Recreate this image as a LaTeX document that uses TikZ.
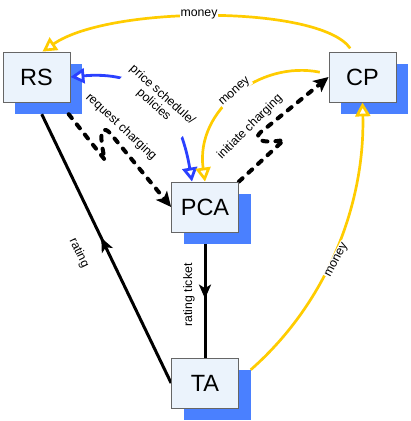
\documentclass[tikz,border=0pt]{standalone}
\usepackage{fontspec}
\setmainfont{Liberation Sans}
\usetikzlibrary{arrows.meta,calc,decorations.markings}
\pgfdeclarelayer{bg}\pgfdeclarelayer{fg}\pgfsetlayers{bg,main,fg}
\definecolor{boxfill}{HTML}{EBF3FC}
\definecolor{boxline}{HTML}{666666}
\definecolor{shadowblue}{HTML}{4A80FF}
\definecolor{linkblue}{HTML}{2A40FF}
\definecolor{gold}{HTML}{FFCC00}
\begin{document}
\begin{tikzpicture}[x=1pt,y=-1pt,
  entity/.style={draw=boxline, line width=0.8pt, fill=boxfill, minimum width=67pt, minimum height=50pt, inner sep=0pt, font=\fontsize{23.5}{26}\selectfont},
  shadowbox/.style={fill=shadowblue, minimum width=67pt, minimum height=50pt, inner sep=0pt},
  lbl/.style={font=\fontsize{12.3}{13}\selectfont, fill=white, inner sep=1pt, align=center},
  moneyflow/.style={draw=gold, line width=2.7pt, -{Triangle[length=14pt,width=15pt,fill=white]}},
  policyflow/.style={draw=linkblue, line width=2.8pt, {Triangle[length=14pt,width=15pt,fill=white]}-{Triangle[length=14pt,width=15pt,fill=white]}},
  dashflow/.style={draw=black, line width=4pt, dash pattern=on 5pt off 8pt, line cap=round, -{Stealth[length=15pt,width=14pt,inset=3.5pt]}},
  solidflow/.style={draw=black, line width=3pt},
  midarrow/.style={postaction={decorate}, decoration={markings, mark=at position #1 with {\arrow{Stealth[length=14pt,width=12pt,inset=3.5pt]}}}}
]
\useasboundingbox (0,0) rectangle (411,421);

\begin{pgfonlayer}{fg}
  \node[entity] (RS)  at (36.5,77)  {RS};
  \node[entity] (CP)  at (362.5,77) {CP};
  \node[entity] (PCA) at (205,207)  {PCA};
  \node[entity] (TA)  at (205,383)  {TA};
\end{pgfonlayer}

\begin{pgfonlayer}{bg}
  \node[shadowbox] (RSs)  at ($(RS)+(12,12)$)  {};
  \node[shadowbox] (CPs)  at ($(CP)+(12,12)$)  {};
  \node[shadowbox] (PCAs) at ($(PCA)+(12,12)$) {};
  \node[shadowbox] (TAs)  at ($(TA)+(12,12)$)  {};
\end{pgfonlayer}

% money CP -> RS (top)
\draw[moneyflow, shorten <=4pt] ([xshift=-10pt]CP.north) .. controls (320,5) and (110,5) .. ([xshift=6pt]RS.north);
% price schedule / policies
\draw[policyflow] ([xshift=-13pt]PCA.north) .. controls (180,110) and (150,70) .. (RS.east);
% money CP -> PCA
\draw[moneyflow, shorten <=9pt] ([yshift=3pt]CP.west) .. controls (260,60) and (195,110) .. (PCA.north);
% money TA -> CP
\draw[moneyflow] (TAs.north east) .. controls (330,300) and (365,200) .. (CP.south);
% request charging
\draw[dashflow] ($(RSs.south west)!0.8!(RSs.south east)$) -- (105,160) .. controls (100,140) and (99,122) .. (110,133) -- (PCA.west);
% initiate charging
\draw[dashflow] (PCA.north east) -- (284,140) .. controls (262,144) and (248,140) .. (266,128) -- (CP.west);
% rating ticket
\draw[solidflow, midarrow=0.48] (PCA.south |- PCAs.south) -- (TA.north);
% rating
\draw[solidflow, midarrow=0.54] (TA.west) -- ($(RSs.south west)!0.4!(RSs.south east)$);

\begin{pgfonlayer}{fg}
  \node[lbl] (lmoney1) at (199,14) {money};
  \node[lbl, rotate=-42] (lprice) at (158,100) {price schedule/\\policies};
  \node[lbl, rotate=-43, fill=none] (lreq) at (121,127) {request charging};
  \node[lbl, rotate=42] (lmoney2) at (235,92) {money};
  \node[lbl, rotate=45, fill=none] (linit) at (250,127) {initiate charging};
  \node[lbl, rotate=62] (lmoney3) at (337,260) {money};
  \node[lbl, rotate=90, fill=none] (lticket) at (189,295) {rating ticket};
  \node[lbl, rotate=-64, fill=none] (lrating) at (79,253) {rating};
\end{pgfonlayer}
\end{tikzpicture}
\end{document}
